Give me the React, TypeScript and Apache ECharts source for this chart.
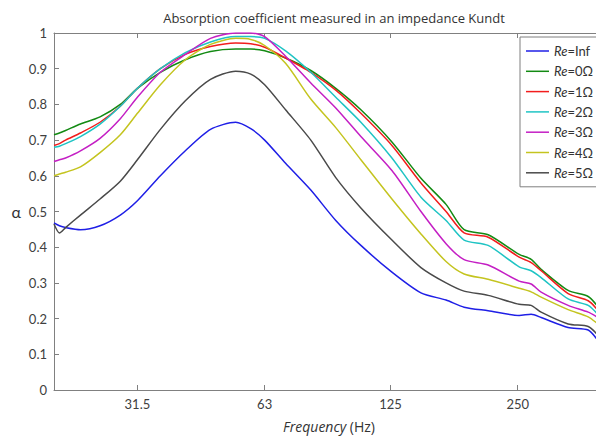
import React, { useEffect, useRef } from "react";
import * as echarts from "echarts";

// Frequencies (Hz) at which the curves were read
const FREQ = [20.0, 20.6, 21.3, 23.1, 25.7, 28.7, 31.5, 35.7, 40.9, 46.9, 53.8, 58.4, 63.0, 70.6, 81.0, 92.8, 106.4, 126.0, 147.6, 169.2, 186.7, 212.8, 252.0, 269.0, 284.0, 329.0, 367.0, 386.0];

const RE_INF = [0.468, 0.46, 0.455, 0.449, 0.46, 0.49, 0.53, 0.6, 0.67, 0.73, 0.75, 0.732, 0.7, 0.635, 0.56, 0.475, 0.405, 0.33, 0.272, 0.252, 0.232, 0.222, 0.209, 0.212, 0.203, 0.175, 0.168, 0.14];
const RE_0 = [0.715, 0.72, 0.727, 0.745, 0.765, 0.8, 0.845, 0.89, 0.925, 0.948, 0.955, 0.955, 0.95, 0.93, 0.895, 0.845, 0.785, 0.695, 0.593, 0.52, 0.449, 0.435, 0.38, 0.366, 0.338, 0.279, 0.262, 0.235];
const RE_1 = [0.685, 0.69, 0.7, 0.72, 0.75, 0.795, 0.845, 0.9, 0.94, 0.962, 0.972, 0.97, 0.96, 0.93, 0.89, 0.84, 0.775, 0.685, 0.58, 0.5, 0.44, 0.428, 0.372, 0.357, 0.334, 0.27, 0.25, 0.225];
const RE_2 = [0.68, 0.683, 0.69, 0.71, 0.745, 0.795, 0.845, 0.9, 0.945, 0.975, 0.99, 0.99, 0.985, 0.95, 0.89, 0.82, 0.75, 0.65, 0.54, 0.475, 0.42, 0.405, 0.345, 0.334, 0.315, 0.255, 0.237, 0.213];
const RE_3 = [0.64, 0.645, 0.65, 0.67, 0.705, 0.76, 0.82, 0.89, 0.94, 0.985, 1.0, 1.0, 0.99, 0.935, 0.86, 0.79, 0.71, 0.615, 0.5, 0.41, 0.365, 0.35, 0.305, 0.297, 0.274, 0.237, 0.218, 0.204];
const RE_4 = [0.6, 0.605, 0.61, 0.625, 0.665, 0.715, 0.775, 0.855, 0.925, 0.968, 0.985, 0.982, 0.965, 0.915, 0.815, 0.735, 0.645, 0.535, 0.437, 0.36, 0.325, 0.31, 0.285, 0.275, 0.26, 0.225, 0.205, 0.186];
const RE_5 = [0.465, 0.44, 0.455, 0.49, 0.535, 0.585, 0.645, 0.73, 0.81, 0.87, 0.893, 0.885, 0.855, 0.785, 0.7, 0.595, 0.51, 0.42, 0.343, 0.3, 0.277, 0.265, 0.24, 0.237, 0.218, 0.185, 0.178, 0.155];

const SERIES_NAMES = ["Re=Inf", "Re=0Ω", "Re=1Ω", "Re=2Ω", "Re=3Ω", "Re=4Ω", "Re=5Ω"];
const SERIES_VALUES = [RE_INF, RE_0, RE_1, RE_2, RE_3, RE_4, RE_5];
const COLORS = ["#1f1fe6", "#138a13", "#f21d1d", "#1fc4c4", "#c41fc4", "#c4c41f", "#4a4a4a"];

const X_TICKS = [31.5, 63, 125, 250];
const X_TICK_LABELS = ["31.5", "63", "125", "250"];
const F_REF = 31.5;
const F_MIN = 20;
const F_MAX = 400;

const FONT = "Lato, 'Open Sans', sans-serif";
const FONT_WIDE = "'Open Sans', Lato, sans-serif";

const toX = (f: number) => Math.log2(f / F_REF);

export default function App() {
  const ref = useRef<HTMLDivElement>(null);
  useEffect(() => {
    document.body.style.margin = "0";
    const chart = echarts.init(ref.current!, undefined, { renderer: "svg" });
    const tickPos = X_TICKS.map(toX);
    const axisColor = "#808080";
    const labelColor = "#404040";
    const option = {
      animation: false,
      backgroundColor: "#ffffff",
      title: {
        text: "Absorption coefficient measured in an impedance Kundt",
        left: 329,
        top: 6,
        textAlign: "center",
        textStyle: { fontSize: 13, fontWeight: "normal", color: "#333333", fontFamily: FONT_WIDE },
      },
      grid: { left: 54, top: 33, right: 8, bottom: 44, containLabel: false },
      legend: {
        orient: "vertical",
        left: 520,
        top: 37,
        data: SERIES_NAMES,
        icon: "rect",
        itemWidth: 23,
        itemHeight: 1.5,
        itemGap: 6.3,
        padding: [7, 6, 7, 6],
        borderColor: "#7f7f7f",
        borderWidth: 1,
        backgroundColor: "#ffffff",
        formatter: (n: string) => n.replace("Re", "{i|Re}"),
        textStyle: {
          fontSize: 13,
          lineHeight: 14,
          color: "#333333",
          fontFamily: FONT,
          rich: { i: { fontStyle: "italic", fontSize: 13, lineHeight: 14, color: "#333333", fontFamily: FONT } },
        },
      },
      xAxis: [
        {
          type: "value",
          min: toX(F_MIN),
          max: toX(F_MAX),
          position: "bottom",
          axisLine: { onZero: false, lineStyle: { color: axisColor, width: 1 } },
          axisTick: { inside: true, length: 5, customValues: tickPos, lineStyle: { color: axisColor } },
          axisLabel: {
            customValues: tickPos,
            formatter: (v: number) => {
              const i = tickPos.findIndex((p) => Math.abs(p - v) < 1e-6);
              return i >= 0 ? X_TICK_LABELS[i] : "";
            },
            color: labelColor,
            fontSize: 13,
            margin: 7,
            fontFamily: FONT,
          },
          splitLine: { show: false },
          name: "{i|Frequency} (Hz)",
          nameLocation: "middle",
          nameGap: 29,
          nameTextStyle: {
            fontSize: 14,
            color: "#333333",
            fontFamily: FONT_WIDE,
            rich: { i: { fontStyle: "italic", fontSize: 14, color: "#333333", fontFamily: FONT_WIDE } },
          },
        },
        {
          type: "value",
          min: toX(F_MIN),
          max: toX(F_MAX),
          position: "top",
          axisLine: { show: true, onZero: false, lineStyle: { color: axisColor, width: 1 } },
          axisTick: { inside: true, length: 5, customValues: tickPos, lineStyle: { color: axisColor } },
          axisLabel: { show: false },
          splitLine: { show: false },
        },
      ],
      yAxis: [
        {
          type: "value",
          min: 0,
          max: 1,
          interval: 0.1,
          position: "left",
          axisLine: { show: true, onZero: false, lineStyle: { color: axisColor, width: 1 } },
          axisTick: { show: true, inside: true, length: 5, lineStyle: { color: axisColor } },
          axisLabel: { color: labelColor, fontSize: 13, margin: 7, fontFamily: FONT },
          splitLine: { show: false },
          name: "α",
          nameLocation: "middle",
          nameRotate: 0,
          nameGap: 33,
          nameTextStyle: { fontSize: 16, color: "#333333", fontFamily: FONT },
        },
        {
          type: "value",
          min: 0,
          max: 1,
          interval: 0.1,
          position: "right",
          axisLine: { show: true, onZero: false, lineStyle: { color: axisColor, width: 1 } },
          axisTick: { show: true, inside: true, length: 5, lineStyle: { color: axisColor } },
          axisLabel: { show: false },
          splitLine: { show: false },
        },
      ],
      series: SERIES_NAMES.map((name, k) => ({
        name,
        type: "line",
        xAxisIndex: 0,
        yAxisIndex: 0,
        symbol: "none",
        smooth: 0.25,
        clip: true,
        color: COLORS[k],
        lineStyle: { width: 1.5, color: COLORS[k] },
        data: FREQ.map((f, i) => [toX(f), SERIES_VALUES[k][i]]),
      })),
    };
    chart.setOption(option as any);
    return () => chart.dispose();
  }, []);
  return (
    <div style={{ width: 596, height: 438, overflow: "hidden", position: "relative", background: "#fff" }}>
      <div ref={ref} style={{ width: 612, height: 438 }} />
    </div>
  );
}
